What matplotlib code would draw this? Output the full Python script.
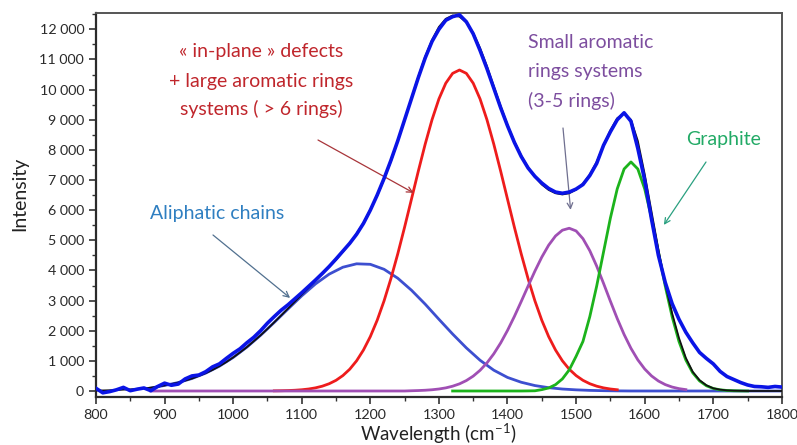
import matplotlib
matplotlib.use("Agg")
import matplotlib.pyplot as plt
from matplotlib.ticker import MultipleLocator, FuncFormatter
import numpy as np

plt.rcParams['font.family'] = ['Lato', 'DejaVu Sans']
plt.rcParams['mathtext.fontset'] = 'custom'
plt.rcParams['mathtext.rm'] = 'Lato'

# ---- spectre mesuré et ajustement (pas de 10 cm-1, 800 -> 1800) ----
wl = np.arange(800, 1810, 10)

mesure = [90, -60, -20, 40, 120, 10, 60, 100, 10, 150,
          260, 190, 230, 400, 500, 530, 640, 800, 900, 1080,
          1250, 1400, 1600, 1780, 2000, 2250, 2470, 2680, 2860, 3060,
          3260, 3470, 3680, 3900, 4130, 4380, 4640, 4900, 5200, 5560,
          6000, 6500, 7050, 7650, 8300, 9000, 9700, 10400, 11050, 11600,
          12000, 12300, 12420, 12480, 12250, 11850, 11300, 10700, 10050, 9400,
          8800, 8250, 7780, 7400, 7120, 6900, 6720, 6600, 6560, 6600,
          6700, 6850, 7150, 7550, 8150, 8600, 9000, 9230, 8950, 8050,
          7000, 5700, 4500, 3600, 2900, 2380, 1950, 1600, 1280, 1080,
          900, 650, 480, 380, 280, 200, 150, 140, 120, 150, 130]

ajustement = [15, 18, 25, 30, 45, 55, 70, 90, 110, 145,
              184, 230, 280, 345, 414, 500, 593, 700, 824, 960,
              1112, 1280, 1455, 1650, 1848, 2060, 2282, 2507, 2736, 2965,
              3198, 3423, 3656, 3880, 4118, 4351, 4619, 4893, 5222, 5578,
              6008, 6477, 7026, 7624, 8291, 8988, 9717, 10429, 11097, 11650,
              12080, 12350, 12460, 12420, 12230, 11880, 11380, 10780, 10114, 9455,
              8825, 8275, 7808, 7420, 7100, 6850, 6670, 6560, 6520, 6560,
              6680, 6880, 7180, 7600, 8150, 8650, 9050, 9220, 9000, 8300,
              7200, 5950, 4700, 3550, 2580, 1760, 1100, 640, 360, 190,
              90, 45, 20, 10, 5, 0, 0, 0, 0, 0, 0]

# ---- bandes de la déconvolution ----
wl_aliph = np.arange(880, 1820, 20)
aliphatique = [100, 184, 280, 414, 593, 824, 1112, 1455, 1848, 2277,
               2721, 3157, 3552, 3877, 4107, 4220, 4203, 4038, 3742, 3343,
               2881, 2380, 1890, 1430, 1020, 690, 450, 290, 180, 110,
               65, 38, 20, 10, 4] + [0] * 12

wl_d = np.arange(1060, 1570, 10)
bande_d = [5, 9, 15, 25, 41, 66, 104, 160, 241, 354,
           512, 723, 1002, 1360, 1805, 2347, 2988, 3727, 4549, 5438,
           6366, 7297, 8191, 9003, 9690, 10212, 10539, 10650, 10539, 10212,
           9690, 9003, 8191, 7297, 6366, 5438, 4549, 3727, 2988, 2347,
           1805, 1360, 1002, 723, 512, 354, 241, 160, 104, 66, 41]

wl_petits = np.arange(880, 1670, 10)
petits_cycles = [0] * 38 + [8, 15, 25, 41, 66, 103, 159, 237, 346, 493,
                            686, 931, 1233, 1593, 2009, 2472, 2969, 3480, 3980, 4442,
                            4838, 5143, 5335, 5400, 5311, 5054, 4654, 4145, 3572, 2979,
                            2403, 1875, 1416, 1034, 731, 500, 331, 212, 131, 78, 45]

wl_g = np.arange(1320, 1760, 10)
graphite = [0] * 11 + [3, 7, 45, 100, 210, 400, 700, 1150, 1644, 2468,
                       3479, 4610, 5737, 6707, 7366, 7600, 7366, 6707, 5737, 4610,
                       3479, 2468, 1644, 1029, 605, 334, 173, 84, 39, 17, 7, 3, 0]

fig = plt.figure(figsize=(7.97, 4.45), dpi=100)
ax = fig.add_axes([0.1204, 0.1085, 0.8606, 0.8615])

ax.plot(wl_aliph, aliphatique, color='#3d4fd0', lw=2.0, zorder=2)
ax.plot(wl_d, bande_d, color='#ee1c1c', lw=2.0, zorder=3)
ax.plot(wl_petits, petits_cycles, color='#a04fb4', lw=2.0, zorder=3)
ax.plot(wl_g, graphite, color='#1cb31c', lw=2.0, zorder=4)
ax.plot(wl, ajustement, color='#111111', lw=1.3, zorder=5)
ax.plot(wl, mesure, color='#0a14e6', lw=2.6, zorder=6)

ax.set_xlim(800, 1800)
ax.set_ylim(-190, 12530)
ax.xaxis.set_major_locator(MultipleLocator(100))
ax.xaxis.set_minor_locator(MultipleLocator(50))
ax.yaxis.set_major_locator(MultipleLocator(1000))
ax.yaxis.set_minor_locator(MultipleLocator(500))
ax.yaxis.set_major_formatter(FuncFormatter(lambda v, p: f"{int(v):,}".replace(",", " ")))

ax.tick_params(which='major', direction='out', length=5, width=1.2,
               color='#333333', labelcolor='#2a2a2a', labelsize=10.3)
ax.tick_params(which='minor', direction='out', length=3, width=1.0, color='#333333')
for s in ['left', 'bottom']:
    ax.spines[s].set_linewidth(1.6)
    ax.spines[s].set_color('#2b2b2b')
for s in ['top', 'right']:
    ax.spines[s].set_linewidth(1.4)
    ax.spines[s].set_color('#555555')

fig.text(20 / 797, 1 - 194 / 445, 'Intensity', rotation=90, ha='center', va='center',
         fontsize=14, color='#222222')
fig.text(438 / 797, 1 - 434 / 445, 'Wavelength (cm$^{\\mathregular{-1}}$)', ha='center',
         va='center', fontsize=13.5, color='#222222')

# ---- étiquettes et flèches ----
fig.text(150 / 797, 1 - 213 / 445, 'Aliphatic chains', ha='left', va='center',
         fontsize=14, color='#2f7fc1')
ax.annotate('', xy=(1083, 3088), xytext=(213 / 797, 1 - 235 / 445), textcoords='figure fraction',
            arrowprops=dict(arrowstyle='->', color='#51708f', lw=0.9, shrinkA=0, shrinkB=0))

for txt, y in zip(['« in-plane » defects', '+ large aromatic rings', 'systems ( > 6 rings)'],
                  [52, 81, 109]):
    fig.text(261 / 797, 1 - y / 445, txt, ha='center', va='center', fontsize=14, color='#c0262c')
ax.annotate('', xy=(1263, 6574), xytext=(318 / 797, 1 - 140 / 445), textcoords='figure fraction',
            arrowprops=dict(arrowstyle='->', color='#a8353a', lw=0.9, shrinkA=0, shrinkB=0))

for txt, y in zip(['Small aromatic', 'rings systems', '(3-5 rings)'], [43, 72, 101]):
    fig.text(528 / 797, 1 - y / 445, txt, ha='left', va='center', fontsize=14, color='#7d4e9f')
ax.annotate('', xy=(1492, 6010), xytext=(563 / 797, 1 - 128 / 445), textcoords='figure fraction',
            arrowprops=dict(arrowstyle='->', color='#6f6f8f', lw=0.9, shrinkA=0, shrinkB=0))

fig.text(686 / 797, 1 - 140 / 445, 'Graphite', ha='left', va='center', fontsize=14, color='#22aa66')
ax.annotate('', xy=(1628, 5511), xytext=(706 / 797, 1 - 162 / 445), textcoords='figure fraction',
            arrowprops=dict(arrowstyle='->', color='#2aa080', lw=0.9, shrinkA=0, shrinkB=0))

fig.savefig('out.png', dpi=100)
